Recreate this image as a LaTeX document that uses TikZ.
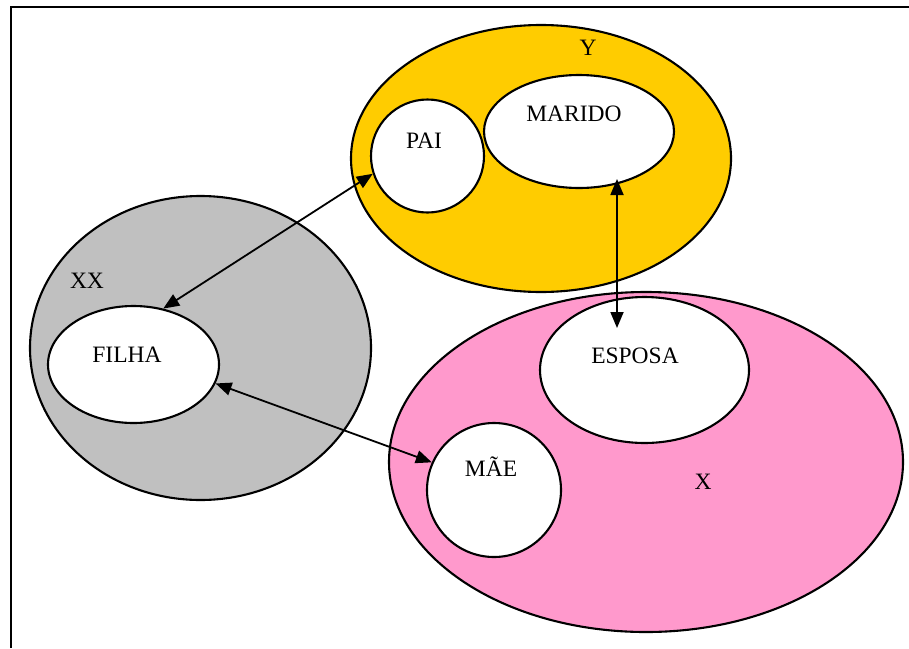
\documentclass[tikz,border=0pt]{standalone}
\usepackage{fontspec}
\setmainfont{Liberation Serif}
\usetikzlibrary{shapes.geometric,arrows.meta}
\definecolor{setyellow}{HTML}{FFCC00}
\definecolor{setgray}{HTML}{C0C0C0}
\definecolor{setpink}{HTML}{FF99CC}
\begin{document}
\begin{tikzpicture}[x=1pt,y=-1pt,
  setshape/.style={ellipse, draw=black, line width=2.1pt, inner sep=0pt},
  member/.style={setshape, fill=white},
  rel/.style={{Triangle[length=16pt,width=13pt]}-{Triangle[length=16pt,width=13pt]}, line width=1.8pt},
  lbl/.style={font=\fontsize{23.5}{27}\selectfont, inner sep=0pt, anchor=base}]
\useasboundingbox (0,0) rectangle (909,648);

% page frame (top and left edges)
\draw[line width=2.2pt] (11,648) -- (11,7) -- (909,7);

% outer sets
\node[setshape, fill=setgray,   minimum width=341pt, minimum height=304pt] (xx) at (200.5,348) {};
\node[setshape, fill=setyellow, minimum width=380pt, minimum height=267pt] (y)  at (541,158.5) {};
\node[setshape, fill=setpink,   minimum width=514pt, minimum height=340pt] (x)  at (646,462) {};

% members
\node[member, minimum width=113pt, minimum height=113pt] (pai)    at (427.5,156) {};
\node[member, minimum width=190pt, minimum height=113pt] (marido) at (579,131.5) {};
\node[member, minimum width=171pt, minimum height=117pt] (filha)  at (133.5,364.5) {};
\node[member, minimum width=209pt, minimum height=146pt] (esposa) at (644.5,370) {};
\node[member, minimum width=134pt, minimum height=134pt] (mae)    at (494,490) {};

% labels
\node[lbl] (ly)      at (588,55)  {Y};
\node[lbl] (lmarido) at (574,121) {MARIDO};
\node[lbl] (lpai)    at (424,148) {PAI};
\node[lbl] (lxx)     at (87,288)  {XX};
\node[lbl] (lfilha)  at (127,362) {FILHA};
\node[lbl] (lesposa) at (635,363) {ESPOSA};
\node[lbl] (lmae)    at (491,476) {MÃE};
\node[lbl] (lx)      at (703,489) {X};

% relations
\coordinate (husband) at (617,179);
\coordinate (wife)    at (617,328);
\draw[rel] (filha.62) -- (pai.198);
\draw[rel] (husband) -- (wife);
\draw[rel] (filha.-13) -- (mae.156);
\end{tikzpicture}
\end{document}
